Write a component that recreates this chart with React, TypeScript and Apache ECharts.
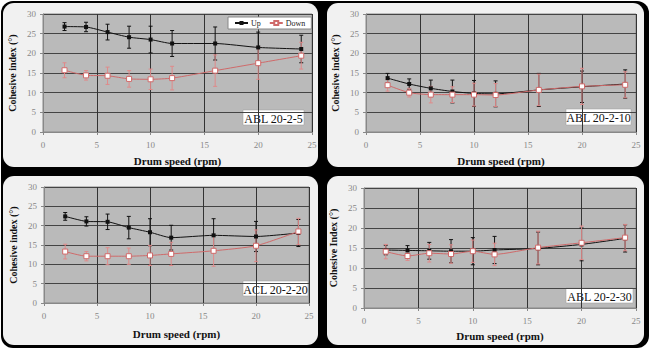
import React, { useEffect, useRef } from "react";
import * as echarts from "echarts";

const speeds = [2, 4, 6, 8, 10, 12, 16, 20, 24];
const xTicks = [0, 5, 10, 15, 20, 25];
const yTicks = [0, 5, 10, 15, 20, 25, 30];
const panelLabels = ["ABL 20-2-5", "ABL 20-2-10", "ACL 20-2-20", "ABL 20-2-30"];
const yNames = ["Cohesive index (°)", "Cohesive index (°)", "Cohesive index (°)", "Cohesive Index (°)"];

const p1Up = [26.8, 26.7, 25.4, 24.1, 23.5, 22.5, 22.5, 21.5, 21.1];
const p1UpErr = [1.0, 1.2, 2.0, 2.8, 3.4, 3.3, 4.2, 3.9, 3.5];
const p1Down = [15.7, 14.4, 14.3, 13.5, 13.4, 13.7, 15.6, 17.5, 19.4];
const p1DownErr = [1.9, 1.2, 2.2, 2.1, 2.6, 3.0, 4.0, 4.1, 3.4];

const p2Up = [13.7, 12.2, 11.1, 10.3, 9.8, 9.7, 10.7, 11.5, 12.2];
const p2UpErr = [1.2, 1.3, 2.1, 2.9, 3.3, 3.3, 4.2, 4.0, 3.6];
const p2Down = [11.9, 10.0, 9.5, 9.5, 9.5, 9.4, 10.7, 11.6, 12.0];
const p2DownErr = [1.5, 1.1, 2.1, 2.0, 2.9, 2.9, 4.0, 4.6, 3.3];

const p3Up = [22.4, 21.1, 21.0, 19.5, 18.3, 16.9, 17.5, 17.2, 18.1];
const p3UpErr = [1.0, 1.2, 2.0, 2.9, 3.5, 3.2, 4.3, 3.9, 3.5];
const p3Down = [13.3, 12.1, 12.1, 12.1, 12.3, 12.7, 13.5, 14.8, 18.5];
const p3DownErr = [1.9, 1.2, 2.2, 2.1, 2.6, 3.0, 4.0, 4.1, 3.4];

const p4Up = [14.5, 14.4, 14.3, 14.2, 14.2, 14.5, 14.9, 15.9, 17.4];
const p4UpErr = [1.2, 1.2, 2.1, 2.9, 3.4, 3.4, 4.1, 4.1, 3.4];
const p4Down = [14.1, 13.0, 13.7, 13.5, 14.2, 13.4, 15.1, 16.3, 17.6];
const p4DownErr = [1.8, 1.1, 2.2, 2.3, 2.8, 2.8, 4.1, 4.2, 3.3];

const panels = [
  { up: p1Up, upErr: p1UpErr, down: p1Down, downErr: p1DownErr },
  { up: p2Up, upErr: p2UpErr, down: p2Down, downErr: p2DownErr },
  { up: p3Up, upErr: p3UpErr, down: p3Down, downErr: p3DownErr },
  { up: p4Up, upErr: p4UpErr, down: p4Down, downErr: p4DownErr },
];

const FONT = "Liberation Serif";
const UP_COLOR = "#111111";
const DOWN_COLOR = "#cf6a6a";
const DOWN_ERR = "#e08a8a";

const grids = [
  { left: 43, top: 14, width: 269, height: 118 },
  { left: 366, top: 14, width: 270, height: 118 },
  { left: 44, top: 187, width: 265, height: 116 },
  { left: 364, top: 188, width: 272, height: 120 },
];
const xNameGaps = [23, 23, 25, 22];
const panelRects = [
  { x: 3, y: 3, w: 315, h: 164 },
  { x: 327, y: 3, w: 317, h: 164 },
  { x: 3, y: 176, w: 315, h: 169 },
  { x: 327, y: 176, w: 317, h: 169 },
];
const labelBoxes = [
  { x: 243, y: 110, w: 61, h: 15 },
  { x: 566, y: 109, w: 65, h: 16 },
  { x: 243, y: 281, w: 65, h: 15 },
  { x: 566, y: 288, w: 67, h: 15 },
];

function errRender(color: string) {
  return (params: any, api: any) => {
    const x = api.value(0);
    const lo = api.coord([x, api.value(1)]);
    const hi = api.coord([x, api.value(2)]);
    const cap = 2;
    const style = { stroke: color, lineWidth: 1 };
    return {
      type: "group",
      children: [
        { type: "line", shape: { x1: lo[0], y1: lo[1], x2: hi[0], y2: hi[1] }, style },
        { type: "line", shape: { x1: lo[0] - cap, y1: lo[1], x2: lo[0] + cap, y2: lo[1] }, style },
        { type: "line", shape: { x1: hi[0] - cap, y1: hi[1], x2: hi[0] + cap, y2: hi[1] }, style },
      ],
    };
  };
}

export default function App() {
  const ref = useRef<HTMLDivElement>(null);
  useEffect(() => {
    if (!ref.current) return;
    const chart = echarts.init(ref.current, undefined, { renderer: "svg" });

    const xAxis = grids.map((_, i) => ({
      type: "value",
      gridIndex: i,
      min: xTicks[0],
      max: xTicks[xTicks.length - 1],
      interval: 5,
      name: "Drum speed (rpm)",
      nameLocation: "middle",
      nameGap: xNameGaps[i],
      nameTextStyle: { fontFamily: FONT, fontWeight: "bold", fontSize: 11, color: "#111" },
      axisLine: { show: true, onZero: false, lineStyle: { color: "#888" } },
      axisTick: { show: true, length: 3, lineStyle: { color: "#888" } },
      axisLabel: { fontFamily: FONT, fontSize: 9, color: "#888", margin: 8 },
      splitLine: { show: true, lineStyle: { color: "#333", width: 1 } },
    }));
    const yAxis = grids.map((_, i) => ({
      type: "value",
      gridIndex: i,
      min: yTicks[0],
      max: yTicks[yTicks.length - 1],
      interval: 5,
      name: yNames[i],
      nameLocation: "middle",
      nameGap: 26,
      nameTextStyle: { fontFamily: FONT, fontWeight: "bold", fontSize: 10, color: "#111" },
      axisLine: { show: true, lineStyle: { color: "#888" } },
      axisTick: { show: true, length: 3, lineStyle: { color: "#888" } },
      axisLabel: { fontFamily: FONT, fontSize: 9, color: "#888", margin: 7 },
      splitLine: { show: true, lineStyle: { color: "#444", width: 1 } },
    }));

    const series: any[] = [];
    panels.forEach((p, i) => {
      series.push({
        type: "custom",
        xAxisIndex: i,
        yAxisIndex: i,
        renderItem: errRender(UP_COLOR),
        data: speeds.map((s, k) => [s, p.up[k] - p.upErr[k], p.up[k] + p.upErr[k]]),
        z: 2,
        silent: true,
      });
      series.push({
        type: "custom",
        xAxisIndex: i,
        yAxisIndex: i,
        renderItem: errRender(DOWN_ERR),
        data: speeds.map((s, k) => [s, p.down[k] - p.downErr[k], p.down[k] + p.downErr[k]]),
        z: 2,
        silent: true,
      });
      series.push({
        name: "Up",
        type: "line",
        xAxisIndex: i,
        yAxisIndex: i,
        smooth: 0.2,
        data: speeds.map((s, k) => [s, p.up[k]]),
        symbol: "rect",
        symbolSize: 4,
        itemStyle: { color: UP_COLOR },
        lineStyle: { color: UP_COLOR, width: 1 },
        z: 3,
      });
      series.push({
        name: "Down",
        type: "line",
        xAxisIndex: i,
        yAxisIndex: i,
        smooth: 0.2,
        data: speeds.map((s, k) => [s, p.down[k]]),
        symbol: "rect",
        symbolSize: 5,
        showAllSymbol: true,
        itemStyle: { color: "#ffffff", borderColor: DOWN_COLOR, borderWidth: 1 },
        lineStyle: { color: DOWN_COLOR, width: 1 },
        z: 4,
      });
    });

    const graphic: any[] = [
      { type: "rect", z: -10, shape: { x: 1, y: 1, width: 648, height: 347, r: 12 }, style: { fill: "#000" } },
      ...panelRects.map((r) => ({
        type: "rect",
        z: -9,
        shape: { x: r.x, y: r.y, width: r.w, height: r.h, r: 11 },
        style: { fill: "#f1f1f1" },
      })),
      ...labelBoxes.map((b, i) => ({
        type: "group",
        z: 100,
        children: [
          { type: "rect", shape: { x: b.x, y: b.y, width: b.w, height: b.h }, style: { fill: "#fff", stroke: "#999", lineWidth: 0.5 } },
          {
            type: "text",
            x: b.x + b.w / 2,
            y: b.y + b.h / 2 + 1,
            style: { text: panelLabels[i], fontFamily: FONT, fontSize: 12, fill: "#111", align: "center", verticalAlign: "middle" },
          },
        ],
      })),
    ];

    chart.setOption({
      animation: false,
      backgroundColor: "#ffffff",
      grid: grids.map((g) => ({ ...g, show: true, backgroundColor: "#bababa", borderColor: "#888", borderWidth: 1 })),
      xAxis,
      yAxis,
      legend: {
        data: ["Up", "Down"],
        left: 228,
        top: 17,
        orient: "horizontal",
        backgroundColor: "#ffffff",
        borderColor: "#888",
        borderWidth: 1,
        borderRadius: 0,
        padding: [2, 6, 2, 6],
        itemGap: 8,
        itemWidth: 13,
        itemHeight: 5,
        textStyle: { fontFamily: FONT, fontSize: 8, color: "#222", padding: [0, 0, 0, -2] },
        selectedMode: false,
      },
      graphic,
      series,
    });
    return () => chart.dispose();
  }, []);
  return <div ref={ref} style={{ position: "absolute", left: 0, top: 0, width: 650, height: 349 }} />;
}
